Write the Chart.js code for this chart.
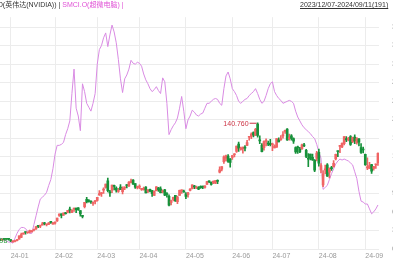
<!DOCTYPE html>
<html>
<head>
<meta charset="utf-8">
<script src="https://cdn.jsdelivr.net/npm/chart.js@4.4.1/dist/chart.umd.min.js"></script>
<style>
  html, body { margin: 0; padding: 0; width: 393px; height: 267px; overflow: hidden; background: #fff; position: relative; }
  #wrap { position: absolute; left: -60px; top: 0; width: 477px; height: 267px; }
  .txt { position: absolute; top: 0; font: 7px/10px "Liberation Sans", "Noto Sans CJK SC", sans-serif; color: #333; white-space: nowrap; }
  #title { left: -24px; }
  #title .sm { color: #e052d6; }
  #range { left: 300px; text-decoration: underline; }
</style>
</head>
<body>
<div id="wrap"><canvas id="chart"></canvas></div>
<div id="title" class="txt">NVDA.O(英伟达(NVIDIA)) | <span class="sm">SMCI.O(超微电脑) |</span></div>
<div id="range" class="txt">2023/12/07-2024/09/11(191)</div>
<script>
// trading days, 2023/12/07 - 2024/09/11
const days = [
  '23-12-07','23-12-08','23-12-11','23-12-12','23-12-13','23-12-14','23-12-15','23-12-18','23-12-19','23-12-20','23-12-21','23-12-22','23-12-26','23-12-27','23-12-28','23-12-29',
  '24-01-02','24-01-03','24-01-04','24-01-05','24-01-08','24-01-09','24-01-10','24-01-11','24-01-12','24-01-16','24-01-17','24-01-18','24-01-19','24-01-22','24-01-23','24-01-24','24-01-25','24-01-26','24-01-29','24-01-30','24-01-31',
  '24-02-01','24-02-02','24-02-05','24-02-06','24-02-07','24-02-08','24-02-09','24-02-12','24-02-13','24-02-14','24-02-15','24-02-16','24-02-20','24-02-21','24-02-22','24-02-23','24-02-26','24-02-27','24-02-28','24-02-29',
  '24-03-01','24-03-04','24-03-05','24-03-06','24-03-07','24-03-08','24-03-11','24-03-12','24-03-13','24-03-14','24-03-15','24-03-18','24-03-19','24-03-20','24-03-21','24-03-22','24-03-25','24-03-26','24-03-27','24-03-28',
  '24-04-01','24-04-02','24-04-03','24-04-04','24-04-05','24-04-08','24-04-09','24-04-10','24-04-11','24-04-12','24-04-15','24-04-16','24-04-17','24-04-18','24-04-19','24-04-22','24-04-23','24-04-24','24-04-25','24-04-26','24-04-29','24-04-30',
  '24-05-01','24-05-02','24-05-03','24-05-06','24-05-07','24-05-08','24-05-09','24-05-10','24-05-13','24-05-14','24-05-15','24-05-16','24-05-17','24-05-20','24-05-21','24-05-22','24-05-23','24-05-24','24-05-28','24-05-29','24-05-30','24-05-31',
  '24-06-03','24-06-04','24-06-05','24-06-06','24-06-07','24-06-10','24-06-11','24-06-12','24-06-13','24-06-14','24-06-17','24-06-18','24-06-20','24-06-21','24-06-24','24-06-25','24-06-26','24-06-27','24-06-28',
  '24-07-01','24-07-02','24-07-03','24-07-05','24-07-08','24-07-09','24-07-10','24-07-11','24-07-12','24-07-15','24-07-16','24-07-17','24-07-18','24-07-19','24-07-22','24-07-23','24-07-24','24-07-25','24-07-26','24-07-29','24-07-30','24-07-31',
  '24-08-01','24-08-02','24-08-05','24-08-06','24-08-07','24-08-08','24-08-09','24-08-12','24-08-13','24-08-14','24-08-15','24-08-16','24-08-19','24-08-20','24-08-21','24-08-22','24-08-23','24-08-26','24-08-27','24-08-28','24-08-29','24-08-30',
  '24-09-03','24-09-04','24-09-05','24-09-06','24-09-09','24-09-10','24-09-11'
];

// NVDA.O daily candles
const open = [
  46.0,46.5,47.3,46.2,47.8,48.3,48.0,49.4,49.6,49.0,48.8,49.2,48.9,49.5,49.6,49.8,
  49.2,47.5,47.8,48.5,49.5,51.0,53.6,54.9,54.6,55.0,55.5,56.8,57.7,60.0,59.8,60.8,62.3,60.9,61.2,62.9,61.4,
  62.1,63.9,68.2,69.4,68.3,70.3,70.6,72.6,70.4,73.2,73.9,74.1,71.9,68.0,75.0,80.7,79.7,79.4,77.6,79.0,
  80.0,84.2,85.2,88.0,90.2,95.2,86.4,88.0,91.0,89.6,86.9,90.3,86.7,89.8,92.3,91.1,93.9,95.8,93.1,90.0,
  90.3,88.5,88.4,90.4,86.9,88.7,87.7,83.9,87.5,89.7,89.1,86.5,88.3,84.9,83.2,78.1,80.7,83.9,78.9,83.8,87.5,87.3,
  85.1,84.5,87.7,89.4,91.0,89.5,90.0,90.9,90.5,90.2,92.5,94.6,94.3,93.6,93.4,95.4,102.0,104.4,110.2,113.0,114.7,112.5,
  113.6,115.7,118.4,124.1,119.8,120.4,121.8,123.1,129.4,130.0,133.0,131.1,139.8,127.1,123.2,121.2,126.1,124.1,124.6,
  123.5,121.1,121.7,127.4,127.5,130.4,134.0,135.8,128.3,130.6,128.4,121.4,121.9,120.4,120.4,122.8,119.2,113.0,116.2,113.7,111.5,112.9,
  117.5,103.8,92.1,103.8,107.8,102.0,105.6,106.3,112.4,118.5,122.2,121.9,124.3,128.4,127.3,130.0,125.9,129.6,125.1,128.1,121.4,119.5,
  116.0,105.4,105.0,108.0,104.9,107.8,109.4
];
const high = [
  46.9,47.6,47.5,47.7,48.4,48.7,49.4,50.4,49.7,50.2,49.0,49.4,49.6,49.7,49.9,49.9,
  49.3,48.2,48.5,49.5,52.3,54.3,54.6,55.3,55.0,56.8,56.3,57.3,59.5,60.3,59.9,62.8,62.8,61.5,62.5,63.5,62.8,
  63.1,66.2,69.4,69.5,70.3,70.6,72.1,74.7,72.7,73.9,74.0,74.4,72.0,68.3,78.5,82.4,80.6,79.7,78.9,79.9,
  82.3,87.7,86.1,89.7,92.7,97.4,87.8,92.0,91.9,90.5,89.5,92.4,90.5,90.4,92.3,94.7,96.7,96.3,93.2,91.2,
  92.2,89.5,90.3,90.7,88.5,88.8,87.8,87.4,90.7,90.1,90.6,88.2,88.7,86.1,84.3,80.2,82.6,84.0,83.3,88.0,88.3,88.0,
  86.0,86.2,89.2,92.1,91.8,91.2,90.8,91.3,91.2,91.4,94.8,95.2,94.3,95.3,95.4,96.0,106.3,106.5,114.9,115.5,115.8,112.7,
  115.0,116.6,122.4,125.6,121.7,121.8,122.9,126.9,129.8,132.8,133.7,136.3,140.76,130.6,124.5,126.5,128.1,126.4,127.7,
  124.8,123.4,128.3,128.9,130.8,133.8,135.1,136.2,131.9,131.4,129.0,121.9,122.4,121.6,124.1,124.7,119.9,116.6,116.2,116.3,112.0,118.3,
  120.2,108.7,103.4,107.7,108.8,105.5,106.6,111.1,116.2,118.6,123.0,125.0,130.0,129.9,129.4,130.8,129.6,131.3,129.2,128.3,124.4,121.8,
  116.2,113.3,109.7,108.2,106.6,108.4,117.2
];
const low = [
  45.898,46.3,45.9,46.1,47.2,47.4,47.9,49.2,48.8,48.1,48.0,48.5,48.9,49.1,49.4,48.9,
  47.6,47.3,47.5,48.3,49.5,50.8,53.5,53.6,54.1,54.4,55.0,56.1,57.3,58.6,58.6,60.6,60.7,60.0,61.0,62.0,61.3,
  61.4,63.5,67.4,66.3,68.2,69.1,70.2,70.1,70.4,71.3,70.4,72.2,67.7,66.2,74.1,78.0,78.6,77.5,76.1,77.1,
  79.4,83.9,83.0,85.5,89.6,86.5,83.0,86.0,88.1,86.4,86.3,88.4,85.0,88.3,89.8,90.9,93.6,92.5,89.3,88.9,
  89.2,87.8,88.0,85.9,86.0,86.6,83.0,83.6,87.3,87.0,85.9,85.9,83.7,82.4,75.6,76.5,79.6,79.1,77.4,83.8,85.5,86.4,
  81.3,82.5,87.4,88.9,89.1,89.2,88.4,89.3,89.1,89.6,92.4,93.8,91.9,93.0,93.0,93.0,101.5,103.0,109.0,110.9,109.7,106.0,
  112.0,114.0,117.5,118.3,119.2,117.0,118.7,122.8,127.1,128.3,129.6,130.7,129.5,124.3,118.0,119.3,122.6,122.9,122.6,
  118.8,121.1,121.4,125.7,127.0,128.7,132.4,127.0,127.2,127.2,124.6,116.7,116.7,117.4,119.9,122.1,113.4,106.3,111.6,111.3,102.5,110.9,
  106.8,101.4,90.7,100.6,98.7,97.5,103.4,106.0,111.6,114.1,117.4,121.2,123.4,125.9,126.5,123.1,125.2,124.4,123.9,122.6,116.7,117.2,
  107.3,104.1,104.8,101.0,103.7,105.0,107.4
];
const close = [
  46.6,47.5,46.6,47.6,48.1,48.3,48.9,50.0,49.6,48.1,49.0,48.8,49.3,49.4,49.5,49.5,
  48.2,47.6,48.0,49.1,52.3,53.1,54.3,54.8,54.7,56.4,56.1,57.1,59.5,59.6,59.9,61.3,61.6,61.0,62.4,62.8,61.5,
  63.0,66.1,69.3,68.2,70.0,69.6,72.1,72.3,72.1,73.9,72.6,72.6,69.4,67.5,78.5,78.8,79.1,78.7,77.6,79.1,
  82.3,85.2,85.9,88.7,92.7,87.5,85.8,91.9,90.9,87.9,87.8,88.4,89.4,90.4,91.4,94.3,95.0,92.6,90.3,90.4,
  90.3,89.4,88.9,85.9,88.0,87.1,85.3,87.0,90.6,88.1,86.0,87.4,84.0,84.6,76.2,79.5,82.4,79.6,82.6,87.8,87.7,86.4,
  83.0,85.8,88.8,92.1,90.6,90.4,88.7,89.9,90.4,91.4,94.6,94.4,92.5,94.8,95.4,94.9,103.8,106.5,114.0,114.8,110.5,109.6,
  115.0,116.4,122.4,120.9,120.9,121.8,120.9,125.2,129.6,131.9,131.0,135.6,130.8,126.6,118.1,126.1,126.4,124.0,123.5,
  124.3,122.7,128.3,125.8,128.2,131.4,134.9,127.4,129.2,128.4,126.4,118.0,121.1,117.9,123.5,122.6,114.3,112.3,113.1,111.6,103.7,117.0,
  109.2,107.3,100.5,104.3,98.9,105.0,104.8,109.0,116.1,118.1,122.9,124.6,130.0,127.3,128.5,123.7,129.4,126.5,128.3,125.6,117.6,119.4,
  108.0,106.2,107.2,102.8,106.5,108.1,116.9
];

// SMCI.O, % change over the range
const smciPct = [
  14.3,17.4,12.7,15.9,20.6,17.4,14.3,15.9,12.7,14.3,17.4,
  17.4,15.9,14.3,12.7,11.1,11.1,9.5,
  17.4,25.4,31.7,34.9,34.9,33.3,28.5,25.4,25.4,
  39.7,53.9,68.2,80.9,84.1,87.2,92.0,103.1,112.6,130.1,
  153.8,168.1,168.1,169.7,172.9,185.6,195.1,207.8,252.2,291.8,228.4,215.7,191.9,
  268.0,255.3,236.3,230.0,223.6,236.3,252.2,
  299.8,323.5,329.9,342.6,350.5,328.3,347.3,363.2,352.1,334.6,
  307.7,276.0,253.8,276.0,282.3,291.8,306.1,301.3,299.8,302.9,301.3,296.6,
  283.9,274.4,268.0,260.1,255.3,258.5,263.3,256.9,252.2,277.6,271.2,
  236.3,185.6,193.5,199.8,204.6,212.5,228.4,247.4,223.6,195.1,
  209.4,215.7,225.2,222.0,217.3,215.7,218.9,220.5,228.4,236.3,236.3,
  239.5,242.7,244.2,242.7,236.3,233.1,260.1,280.7,287.1,276.0,
  260.1,255.3,249.0,239.5,236.3,239.5,242.7,244.2,249.0,252.2,
  255.3,260.1,252.2,242.7,236.3,239.5,249.0,260.1,268.0,271.2,
  255.3,249.0,244.2,241.1,236.3,237.9,239.5,241.1,239.5,236.3,
  223.6,214.1,207.8,201.4,196.7,193.5,190.3,187.1,182.4,179.2,
  169.7,157.0,147.5,96.7,99.9,103.1,112.6,122.1,130.1,138.0,
  142.7,145.9,144.3,145.9,144.3,142.7,139.6,136.4,125.3,114.2,
  93.6,77.7,76.1,73.0,73.0,65.0,57.1,60.3,65.0,71.4
];

const pctTicks = [0, 30, 60, 90, 120, 150, 180, 210, 240, 270, 300, 330, 360];

const UP = '#f06464';
const DOWN = '#16913a';
const candleColors = close.map((c, i) => c >= open[i] ? UP : DOWN);
const monthStart = days.map((d, i) => i > 0 && d.slice(0, 5) !== days[i - 1].slice(0, 5));

const extremeLabels = {
  id: 'extremeLabels',
  afterDatasetsDraw(chart) {
    const { ctx, scales } = chart;
    const hi = high.indexOf(Math.max(...high));
    const lo = low.indexOf(Math.min(...low));
    ctx.save();
    ctx.font = '7px "Liberation Sans", sans-serif';
    ctx.textBaseline = 'middle';
    ctx.lineWidth = 1;

    let x = scales.x.getPixelForValue(hi);
    let y = scales.yPx.getPixelForValue(high[hi]);
    ctx.strokeStyle = ctx.fillStyle = '#cc3344';
    ctx.beginPath(); ctx.moveTo(x - 1, y + 0.5); ctx.lineTo(x - 8, y + 0.5); ctx.stroke();
    ctx.textAlign = 'right';
    ctx.fillText(high[hi].toFixed(3), x - 9, y + 1);

    x = scales.x.getPixelForValue(lo);
    y = scales.yPx.getPixelForValue(low[lo]);
    ctx.strokeStyle = ctx.fillStyle = '#2a9d3a';
    ctx.beginPath(); ctx.moveTo(x + 1, y + 0.5); ctx.lineTo(x + 8, y + 0.5); ctx.stroke();
    ctx.textAlign = 'left';
    ctx.fillText(low[lo].toFixed(3), x + 9, y - 3);
    ctx.restore();
  }
};

new Chart(document.getElementById('chart'), {
  data: {
    labels: days,
    datasets: [
      {
        type: 'line',
        label: 'SMCI.O',
        data: smciPct,
        yAxisID: 'y',
        borderColor: '#d98be3',
        borderWidth: 1,
        pointRadius: 0,
        tension: 0,
        order: 3
      },
      {
        type: 'bar',
        label: 'wick',
        data: low.map((l, i) => [l, high[i]]),
        yAxisID: 'yPx',
        backgroundColor: candleColors,
        barThickness: 1,
        grouped: false,
        minBarLength: 1,
        order: 2
      },
      {
        type: 'bar',
        label: 'NVDA.O',
        data: open.map((o, i) => [o, close[i]]),
        yAxisID: 'yPx',
        backgroundColor: candleColors,
        barThickness: 2,
        grouped: false,
        minBarLength: 1,
        order: 1
      }
    ]
  },
  options: {
    responsive: true,
    maintainAspectRatio: false,
    animation: false,
    layout: { padding: { left: 35.9, top: 12, right: 0, bottom: 0 } },
    plugins: { legend: { display: false }, tooltip: { enabled: false } },
    scales: {
      x: {
        type: 'category',
        offset: true,
        border: { display: false },
        grid: {
          offset: false,
          drawTicks: false,
          color: ctx => monthStart[ctx.index] ? '#ececec' : 'rgba(0,0,0,0)'
        },
        ticks: {
          autoSkip: false,
          maxRotation: 0,
          align: 'start',
          padding: 3,
          color: '#999',
          font: { size: 7, family: '"Liberation Sans", sans-serif' },
          callback: (v, i) => monthStart[i] ? days[i].slice(0, 5) : ''
        },
        afterFit: s => { s.height = 18; }
      },
      y: {
        position: 'right',
        min: 0,
        max: 376,
        border: { display: false },
        grid: { drawTicks: false, color: '#ececec' },
        afterBuildTicks: s => { s.ticks = pctTicks.map(v => ({ value: v })); },
        ticks: {
          padding: 13,
          color: '#999',
          font: { size: 7, family: '"Liberation Sans", sans-serif' },
          callback: v => v.toFixed(2) + '%'
        },
        afterFit: s => { s.width = 38; }
      },
      yPx: {
        display: false,
        min: 41.9,
        max: 223.4
      }
    }
  },
  plugins: [extremeLabels]
});
</script>
</body>
</html>
